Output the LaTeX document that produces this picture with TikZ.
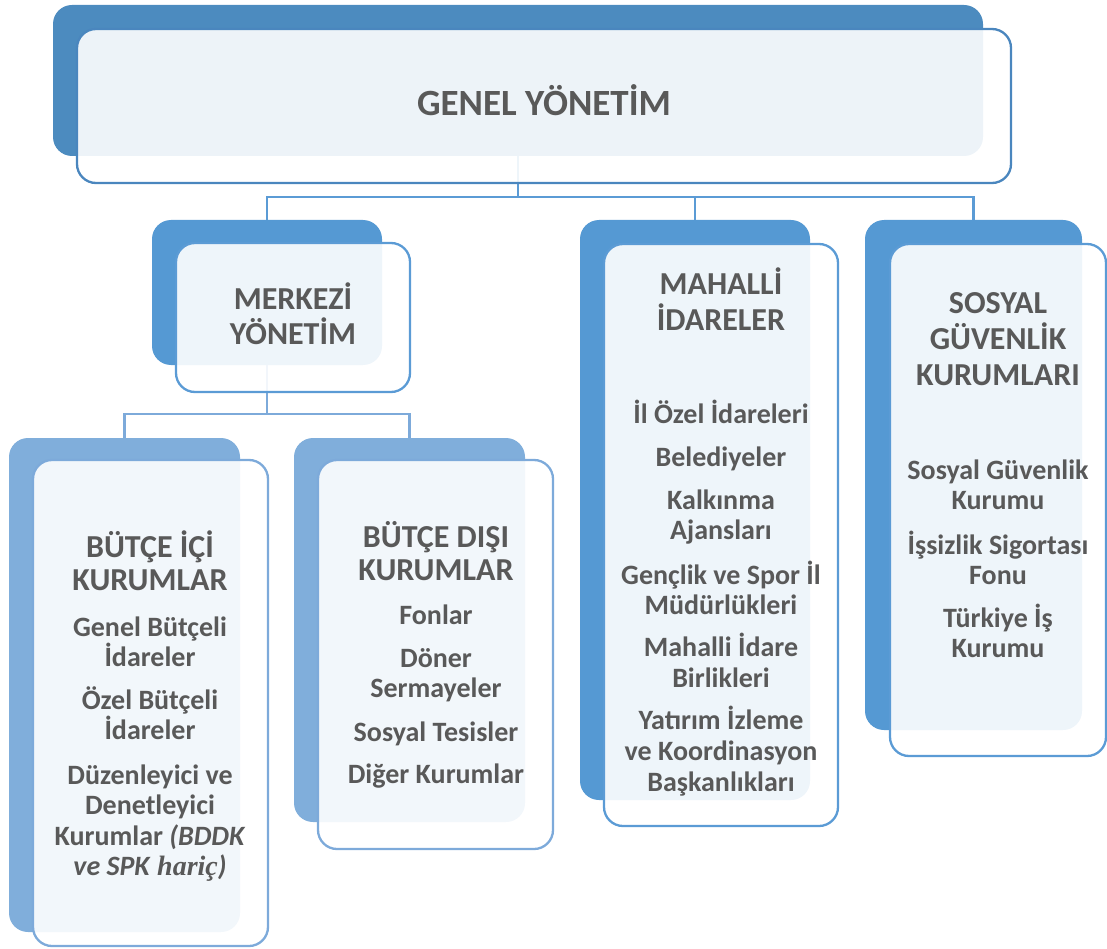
\documentclass[tikz,border=0pt]{standalone}
\usepackage{fontspec}
\setmainfont{Carlito}
\newfontfamily\serifit{Liberation Serif}
\definecolor{topback}{RGB}{76,139,191}
\definecolor{midback}{RGB}{85,153,211}
\definecolor{lowback}{RGB}{128,174,219}
\definecolor{topline}{RGB}{74,134,190}
\definecolor{midline}{RGB}{91,155,213}
\definecolor{lowline}{RGB}{125,170,218}
\definecolor{txtgray}{RGB}{89,89,89}
\tikzset{
  backbox/.style={fill=#1, draw=none, rounded corners=19pt, inner sep=0pt, outer sep=0pt, anchor=north west},
  frontbox/.style={fill=white, fill opacity=0.9, draw=#1, draw opacity=1, line width=2.3pt, rounded corners=19pt, inner sep=0pt, outer sep=0pt, anchor=north west},
  conn/.style={draw=#1, line width=2.4pt},
  ttl/.style={text=txtgray, font=\bfseries\fontsize{37}{41}\selectfont, inner sep=0pt, text height=23.8pt, text depth=0pt},
  hd/.style={text=txtgray, font=\bfseries\fontsize{32}{36}\selectfont, inner sep=0pt, text height=20.6pt, text depth=0pt},
  ent/.style={text=txtgray, font=\bfseries\fontsize{28}{31}\selectfont, inner sep=0pt, text height=18pt, text depth=0pt}
}
\begin{document}
\begin{tikzpicture}[x=1pt,y=-1pt]
\useasboundingbox (0,0) rectangle (1107,949);
% bus coordinates
\coordinate (bus1) at (0,197);
\coordinate (bus2) at (0,414);
% back boxes
\node[backbox=topback, minimum width=930pt, minimum height=151pt] (gb) at (53,5) {};
\node[backbox=midback, minimum width=230pt, minimum height=145pt] (mb) at (152,220) {};
\node[backbox=lowback, minimum width=231pt, minimum height=494pt] (ib) at (9,438) {};
\node[backbox=lowback, minimum width=231pt, minimum height=384pt] (db) at (294,438) {};
\node[backbox=midback, minimum width=230pt, minimum height=580pt] (hb) at (580,220) {};
\node[backbox=midback, minimum width=217pt, minimum height=510pt] (sb) at (865,220) {};
% connectors
\draw[conn=midline] (gb.south) -- (gb.south |- bus1);
\draw[conn=midline] (mb.north) |- (sb.north |- bus1) -- (sb.north);
\draw[conn=midline] (hb.north) -- (hb.north |- bus1);
\draw[conn=lowline] (mb.south) -- (mb.south |- bus2);
\draw[conn=lowline] (ib.north) |- (db.north |- bus2) -- (db.north);
% front boxes
\node[frontbox=topline, minimum width=934pt, minimum height=154pt] (gf) at (77,29) {};
\node[frontbox=midline, minimum width=234pt, minimum height=149pt] (mf) at (176,243) {};
\node[frontbox=lowline, minimum width=235pt, minimum height=486pt] (if) at (33,460) {};
\node[frontbox=lowline, minimum width=235pt, minimum height=389pt] (df) at (318,460) {};
\node[frontbox=midline, minimum width=234pt, minimum height=582pt] (hf) at (604,244) {};
\node[frontbox=midline, minimum width=216pt, minimum height=512pt] (sf) at (890,244) {};
% texts
\node[ttl] (t0) at (544,104) {GENEL YÖNETİM};
\node[hd] (m1) at (293,299) {MERKEZİ};
\node[hd] (m2) at (293,334) {YÖNETİM};
% Butce ici
\node[hd] (i1) at (150,547) {BÜTÇE İÇİ};
\node[hd] (i2) at (150,580) {KURUMLAR};
\node[ent] (i3) at (150,627) {Genel Bütçeli};
\node[ent] (i4) at (150,657) {İdareler};
\node[ent] (i5) at (150,700) {Özel Bütçeli};
\node[ent] (i6) at (150,730) {İdareler};
\node[ent] (i7) at (150,775) {Düzenleyici ve};
\node[ent] (i8) at (150,805) {Denetleyici};
\node[ent] (i9) at (150,836) {Kurumlar \textit{(BDDK}};
\node[ent] (i10) at (150,866) {\textit{ve SPK} {\serifit\bfseries\itshape hariç}\textit{)}};
% Butce disi
\node[hd] (d1) at (436,537) {BÜTÇE DIŞI};
\node[hd] (d2) at (436,570) {KURUMLAR};
\node[ent] (d3) at (436,615) {Fonlar};
\node[ent] (d4) at (436,658) {Döner};
\node[ent] (d5) at (436,688) {Sermayeler};
\node[ent] (d6) at (436,732) {Sosyal Tesisler};
\node[ent] (d7) at (436,774) {Diğer Kurumlar};
% Mahalli
\node[hd] (h1) at (721,284) {MAHALLİ};
\node[hd] (h2) at (721,320) {İDARELER};
\node[ent] (h3) at (721,414) {İl Özel İdareleri};
\node[ent] (h4) at (721,457) {Belediyeler};
\node[ent] (h5) at (721,500) {Kalkınma};
\node[ent] (h6) at (721,530) {Ajansları};
\node[ent] (h7) at (721,575) {Gençlik ve Spor İl};
\node[ent] (h8) at (721,605) {Müdürlükleri};
\node[ent] (h9) at (721,647) {Mahalli İdare};
\node[ent] (h10) at (721,678) {Birlikleri};
\node[ent] (h11) at (721,720) {Yatırım İzleme};
\node[ent] (h12) at (721,751) {ve Koordinasyon};
\node[ent] (h13) at (721,782) {Başkanlıkları};
% Sosyal
\node[hd] (s1) at (998,303) {SOSYAL};
\node[hd] (s2) at (998,339) {GÜVENLİK};
\node[hd] (s3) at (998,375) {KURUMLARI};
\node[ent] (s4) at (998,470) {Sosyal Güvenlik};
\node[ent] (s5) at (998,500) {Kurumu};
\node[ent] (s6) at (998,545) {İşsizlik Sigortası};
\node[ent] (s7) at (998,575) {Fonu};
\node[ent] (s8) at (998,618) {Türkiye İş};
\node[ent] (s9) at (998,648) {Kurumu};
\end{tikzpicture}
\end{document}
